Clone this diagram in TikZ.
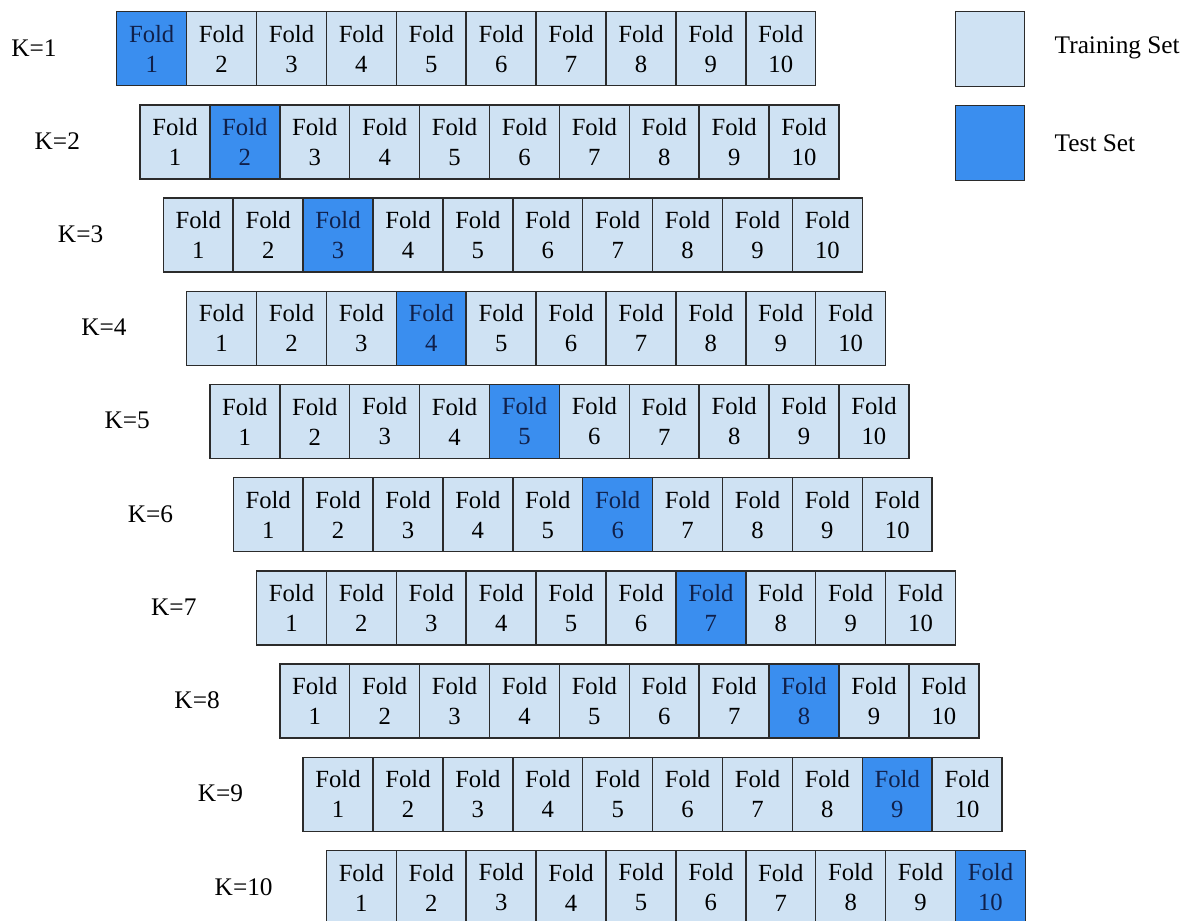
\documentclass[tikz,border=0pt]{standalone}
\usepackage{fontspec}
\setmainfont{Liberation Serif}
\definecolor{train}{HTML}{CFE2F3}
\definecolor{test}{HTML}{3A8EEF}
\definecolor{edge}{HTML}{2B2B2B}
\definecolor{testtext}{HTML}{10204A}
\begin{document}
\begin{tikzpicture}[x=0.75pt,y=-0.75pt,
  cell/.style={draw=edge,line width=1.1pt,fill=train,minimum width=52.4pt,minimum height=55.5pt,
    inner sep=0pt,align=center,font=\fontsize{18.5}{22.5}\selectfont,anchor=north west},
  lbl/.style={font=\fontsize{19}{22}\selectfont},
  legbox/.style={draw=edge,line width=1.1pt,minimum width=51.5pt,minimum height=56pt,inner sep=0pt,anchor=north west},
  legtext/.style={font=\fontsize{19}{22}\selectfont,anchor=west}]
\useasboundingbox (0,0) rectangle (1189,921);
\foreach \i in {0,...,9}{
  \pgfmathsetmacro\xo{116+23.3*\i}
  \pgfmathsetmacro\yo{11+93.2*\i}
  \pgfmathtruncatemacro\k{\i+1}
  \node[lbl] (k\k) at (34+23.3*\i, \yo+37) {K=\k};
  \foreach \j in {1,...,10}{
    \ifnum\j=\k \def\fc{test}\def\tc{testtext}\else\def\fc{train}\def\tc{black}\fi
    \node[cell, fill=\fc, text=\tc] (c\k-\j) at (\xo+69.9*\j-69.9, \yo) {Fold\\\j};
  }
}
\node[legbox, fill=train] (ltrain) at (955,11) {};
\node[legbox, fill=test] (ltest) at (955,105) {};
\node[legtext] (ttrain) at (1050,48) {Training Set};
\node[legtext] (ttest) at (1050,143) {Test Set};
\end{tikzpicture}
\end{document}
